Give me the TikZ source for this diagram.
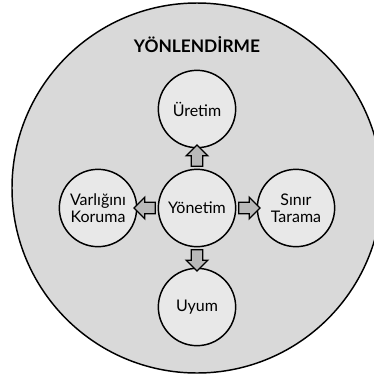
\documentclass[tikz,border=0pt]{standalone}
\usepackage{fontspec}
\setmainfont{Lato}
\usetikzlibrary{calc,shapes.arrows}

\begin{document}
\begin{tikzpicture}[x=0.75pt, y=-0.75pt,
    % Define a style for the small circles
    part/.style={circle, draw=black, line width=1.1pt, fill=gray!18, inner sep=0pt,
                 minimum size=58pt, align=center, font=\fontsize{12}{12.5}\selectfont},
    % Define a style for the block arrows
    blockarrow/.style={single arrow, draw=black, line width=1pt, fill=gray!55,
                 inner xsep=0pt, inner ysep=3.8pt, minimum height=16pt,
                 single arrow head extend=3.8pt}
]
    \clip (0,0) rectangle (374,380);
    \useasboundingbox (0,0) rectangle (374,380);

    % Outer circle and its title
    \def\cx{197}
    \def\cy{188}
    \node[circle, draw=black, line width=1.1pt, fill=gray!30, minimum size=277.5pt] (whole) at (\cx,\cy) {};
    \node[font=\fontsize{13}{14}\selectfont\bfseries] (title) at (197,45) {YÖNLENDİRME};

    % Place the five circles (distance between centres)
    \def\d{99}
    \node[part] (yon) at (197,208) {Yönetim};
    \foreach \name/\dx/\dy/\txt in {ure/0/-1/Üretim, uyu/0/1/Uyum, var/-1/0/Varlığını\\Koruma, sin/1/0/Sınır\\Tarama} {
        \node[part] (\name) at ($(yon)+(\dx*\d,\dy*\d)$) {\txt};
    }

    % Block arrows from Yönetim to each circle
    \foreach \name/\angle/\from/\to in {ure/90/north/south, uyu/-90/south/north, var/180/west/east, sin/0/east/west} {
        \node[blockarrow, rotate=\angle] (a\name) at ($(yon.\from)!0.5!(\name.\to)$) {};
    }

\end{tikzpicture}
\end{document}
